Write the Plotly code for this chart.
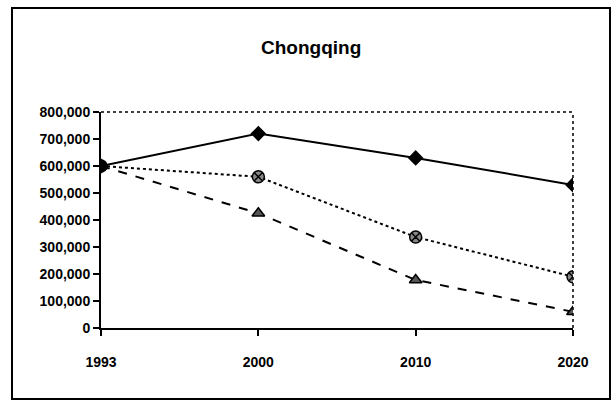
import plotly.graph_objects as go

years = ["1993", "2000", "2010", "2020"]
series_a = [600000, 720000, 630000, 530000]
series_b = [600000, 560000, 337000, 190000]
series_c = [600000, 425000, 178000, 60000]
y_ticks = [0, 100000, 200000, 300000, 400000, 500000, 600000, 700000, 800000]
title_text = "Chongqing"

W, H = 613, 402
L, T = 101, 112
R = W - 573
B = H - 328
pw, ph = W - L - R, H - T - B

def px(x):
    return (x - L) / pw

def py(y):
    return (H - B - y) / ph

fig = go.Figure()
fig.add_trace(go.Scatter(x=years, y=series_c, mode="lines+markers",
                         line=dict(color="black", width=2, dash="dash"),
                         marker=dict(symbol="triangle-up", size=11, color="#555",
                                     line=dict(color="black", width=1.5))))
fig.add_trace(go.Scatter(x=years, y=series_b, mode="lines+markers",
                         line=dict(color="black", width=2, dash="dot"),
                         marker=dict(symbol="circle-x", size=12, color="#888",
                                     line=dict(color="black", width=1.5))))
fig.add_trace(go.Scatter(x=years, y=series_a, mode="lines+markers",
                         line=dict(color="black", width=2),
                         marker=dict(symbol="diamond", size=12, color="black")))

font = dict(family="Liberation Sans", size=14, color="black", weight="bold")

fig.update_layout(
    width=W, height=H,
    margin=dict(l=L, r=R, t=T, b=B, autoexpand=False),
    paper_bgcolor="white", plot_bgcolor="white",
    showlegend=False,
    font=font,
    xaxis=dict(type="category", range=[0, 3], showgrid=False, zeroline=False,
               showline=True, linecolor="black", linewidth=2,
               ticks="outside", ticklen=6, tickcolor="black", tickwidth=2,
               tickfont=font, ticklabelstandoff=14),
    yaxis=dict(range=[0, 800000], tickvals=y_ticks, tickformat=",d",
               showgrid=False, zeroline=False,
               showline=True, linecolor="black", linewidth=2,
               ticks="outside", ticklen=6, tickcolor="black", tickwidth=2,
               tickfont=font),
    shapes=[
        dict(type="line", xref="paper", yref="paper", x0=0, x1=1, y0=1, y1=1,
             line=dict(color="black", width=1.5, dash="dot")),
        dict(type="line", xref="paper", yref="paper", x0=1, x1=1, y0=0, y1=1,
             line=dict(color="black", width=1.5, dash="dot")),
        dict(type="rect", xref="paper", yref="paper",
             x0=px(12), x1=px(610), y0=py(399), y1=py(8),
             line=dict(color="black", width=2)),
    ],
    annotations=[
        dict(text=title_text, xref="paper", yref="paper", x=px(311), y=py(47),
             showarrow=False, xanchor="center", yanchor="middle",
             font=dict(family="Liberation Sans", size=19, color="black", weight="bold")),
    ],
)

fig.write_html(
    "out.html",
    config={"displayModeBar": False},
    post_script="document.body.style.margin='0';document.body.style.overflow='hidden';",
)
